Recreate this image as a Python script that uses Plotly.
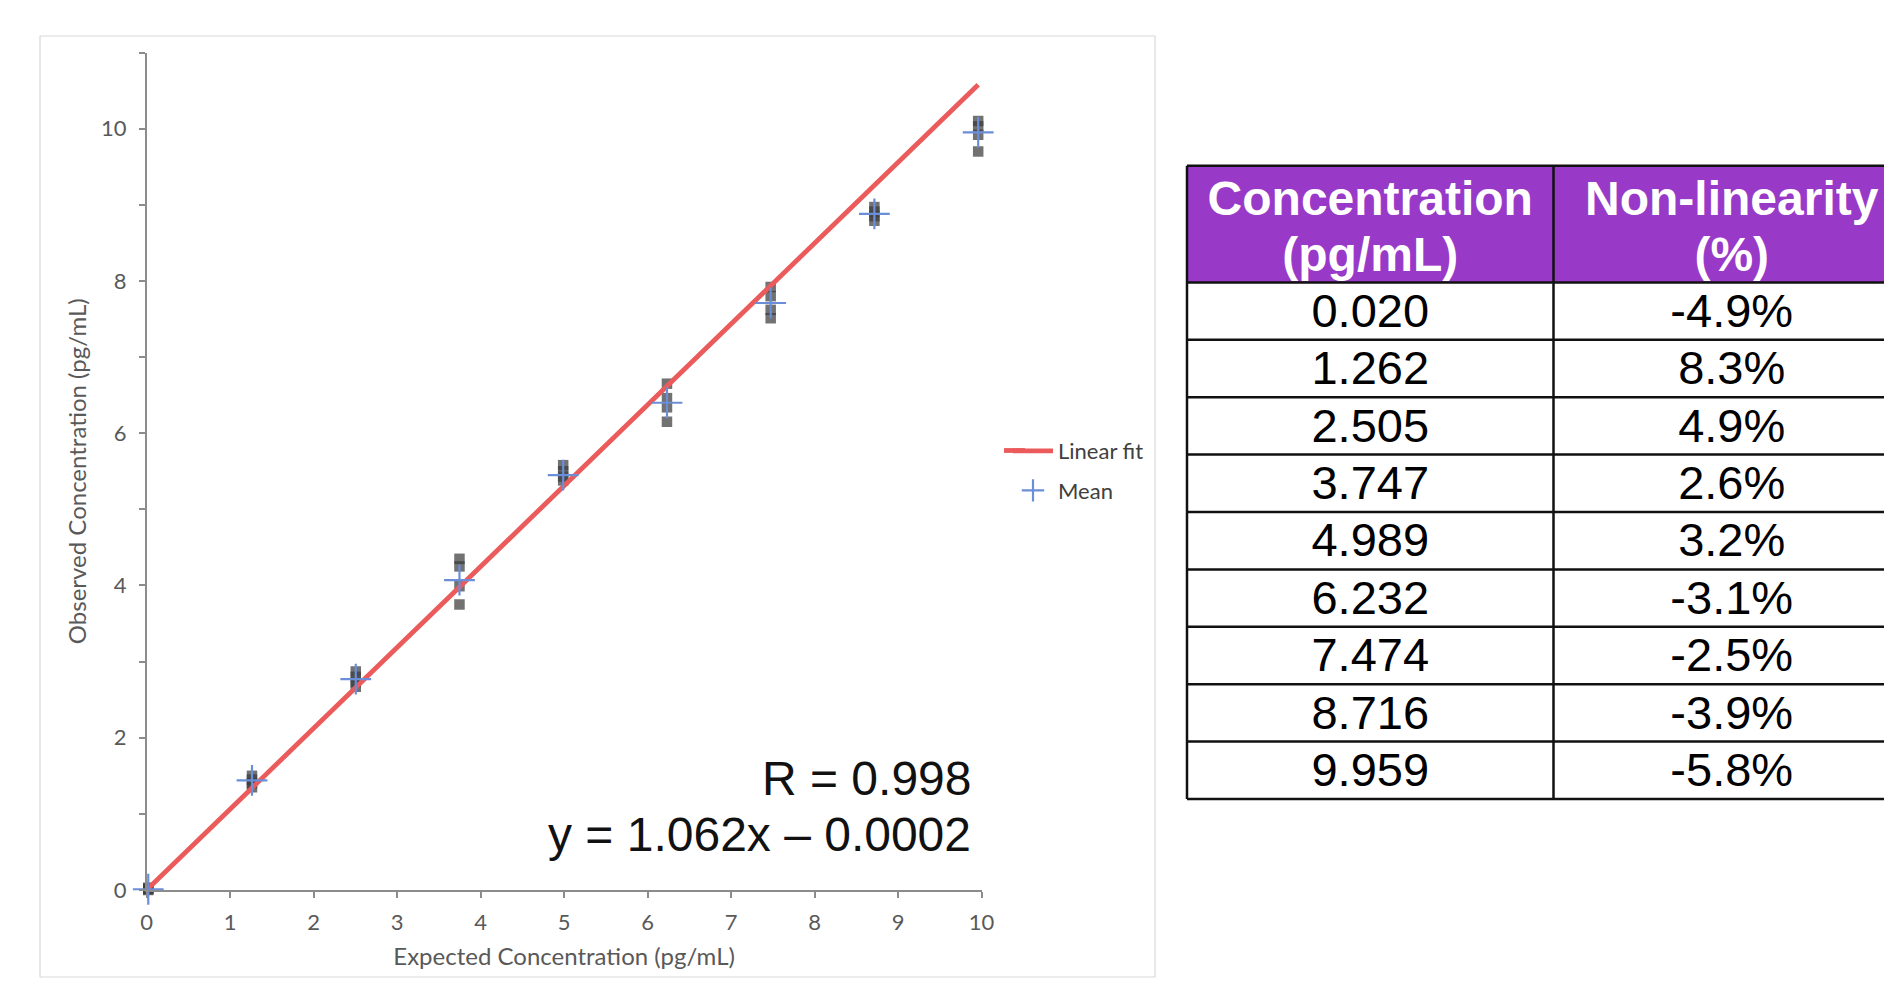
import plotly.graph_objects as go

# ---------------- data ----------------
expected = [0.020, 1.262, 2.505, 3.747, 4.989, 6.232, 7.474, 8.716, 9.959]
rep1 = [0.03, 1.50, 2.87, 4.35, 5.58, 6.65, 7.92, 8.97, 10.10]
rep2 = [0.02, 1.45, 2.80, 4.25, 5.50, 6.46, 7.80, 8.91, 10.03]
rep3 = [0.01, 1.40, 2.73, 3.99, 5.43, 6.34, 7.62, 8.85, 9.92]
rep4 = [0.00, 1.35, 2.67, 3.75, 5.38, 6.15, 7.51, 8.79, 9.70]
mean_obs = [0.01, 1.44, 2.77, 4.07, 5.45, 6.40, 7.71, 8.88, 9.95]
fit_x = [0.0, 9.959]
fit_y = [-0.0002, 10.576]
x_ticks = [0, 1, 2, 3, 4, 5, 6, 7, 8, 9, 10]
y_ticks = [0, 2, 4, 6, 8, 10]

table_header_1 = ["Concentration", "Non-linearity"]
table_header_2 = ["(pg/mL)", "(%)"]
table_conc = ["0.020", "1.262", "2.505", "3.747", "4.989", "6.232", "7.474", "8.716", "9.959"]
table_nonlin = ["-4.9%", "8.3%", "4.9%", "2.6%", "3.2%", "-3.1%", "-2.5%", "-3.9%", "-5.8%"]

r_text = "R = 0.998"
eq_text = "y = 1.062x \u2013 0.0002"

# ---------------- layout geometry (pixels) ----------------
W, H = 1884, 982
def px_x(p): return p / W
def px_y(p): return 1 - p / H

AX_FONT = "Lato"
GRAY = "#595959"
RED = "#EB5B5B"
BLUE = "#6B8ED8"

fig = go.Figure()

# replicate squares
reps_x = expected * 4
reps_y = rep1 + rep2 + rep3 + rep4
fig.add_trace(go.Scatter(
    x=reps_x, y=reps_y, mode="markers", showlegend=False, hoverinfo="skip",
    marker=dict(symbol="square", size=10.5, color="rgba(60,60,60,0.72)", line=dict(width=0)),
    xaxis="x", yaxis="y", cliponaxis=False))

# linear fit
fig.add_trace(go.Scatter(
    x=fit_x, y=fit_y, mode="lines", name="Linear fit",
    line=dict(color=RED, width=4.8), legendgroup="a",
    xaxis="x", yaxis="y"))

# mean crosses
fig.add_trace(go.Scatter(
    x=expected, y=mean_obs, mode="markers", name="Mean", legendgroup="b",
    marker=dict(symbol="cross-thin", size=22, line=dict(color=BLUE, width=2.2), color=BLUE),
    xaxis="x", yaxis="y", cliponaxis=False))

# ---------------- table on secondary axes (pixel units) ----------------
T_LEFT, T_MID, T_RIGHT = 1187, 1553.5, 1910
T_TOP, HEAD_H, ROW_H = 165.8, 116.6, 57.4
n_rows = len(table_conc)
T_BOTTOM = T_TOP + HEAD_H + ROW_H * n_rows

shapes = []
shapes.append(dict(type="rect", xref="x2", yref="y2", x0=T_LEFT, x1=T_RIGHT,
                   y0=T_TOP, y1=T_TOP + HEAD_H, fillcolor="#9839C8",
                   line=dict(width=0), layer="below"))
hl = [T_TOP, T_TOP + HEAD_H] + [T_TOP + HEAD_H + ROW_H * (i + 1) for i in range(n_rows)]
for yv in hl:
    shapes.append(dict(type="line", xref="x2", yref="y2", x0=T_LEFT, x1=T_RIGHT,
                       y0=yv, y1=yv, line=dict(color="#111111", width=2.5)))
for xv in [T_LEFT, T_MID, T_RIGHT]:
    shapes.append(dict(type="line", xref="x2", yref="y2", x0=xv, x1=xv,
                       y0=T_TOP, y1=T_BOTTOM, line=dict(color="#111111", width=2.5)))

# chart-area border
shapes.append(dict(type="rect", xref="paper", yref="paper",
                   x0=px_x(40), x1=px_x(1155), y0=px_y(977), y1=px_y(36),
                   line=dict(color="#D9D9D9", width=1.2), fillcolor="rgba(0,0,0,0)", layer="below"))

# lengthen legend line sample to match the reference
shapes.append(dict(type="line", xref="paper", yref="paper",
                   x0=px_x(1004), x1=px_x(1025), y0=px_y(450.5), y1=px_y(450.5),
                   line=dict(color=RED, width=4.8)))

c1 = (T_LEFT + T_MID) / 2
c2 = (T_MID + T_RIGHT) / 2
row_centers = [T_TOP + HEAD_H + ROW_H * (i + 0.5) + 4 for i in range(n_rows)]

fig.add_trace(go.Scatter(
    x=[c1, c2, c1, c2], y=[T_TOP + 37, T_TOP + 37, T_TOP + 93, T_TOP + 93],
    text=["<b>" + t + "</b>" for t in table_header_1 + table_header_2],
    mode="text", textposition="middle center", showlegend=False, hoverinfo="skip",
    textfont=dict(family="Liberation Sans", size=48, color="white"),
    xaxis="x2", yaxis="y2", cliponaxis=True))
fig.add_trace(go.Scatter(
    x=[c1] * n_rows + [c2] * n_rows, y=row_centers + row_centers,
    text=table_conc + table_nonlin, mode="text", textposition="middle center",
    showlegend=False, hoverinfo="skip",
    textfont=dict(family="Liberation Sans", size=47, color="black"),
    xaxis="x2", yaxis="y2", cliponaxis=True))

# ---------------- layout ----------------
PL, PR = 146.6, 981.6
PB, PT = 890.0, 52.5

fig.update_layout(
    width=W, height=H, margin=dict(l=0, r=0, t=0, b=0, autoexpand=False),
    paper_bgcolor="white", plot_bgcolor="rgba(0,0,0,0)",
    showlegend=True,
    legend=dict(x=px_x(1008), y=px_y(430), xanchor="left", yanchor="top",
                font=dict(family=AX_FONT, size=22, color="#404040"),
                bgcolor="rgba(0,0,0,0)", tracegroupgap=8, traceorder="grouped",
                itemwidth=40),
    xaxis=dict(domain=[px_x(PL), px_x(PR)], range=[0, 10], tickvals=x_ticks,
               showgrid=False, zeroline=False, showline=True, linecolor="#8C8C8C", linewidth=1.5,
               ticks="outside", ticklen=6, tickcolor="#8C8C8C", tickwidth=1.5,
               tickfont=dict(family=AX_FONT, size=22, color=GRAY), ticklabelstandoff=6,
               title=dict(text="Expected Concentration (pg/mL)", standoff=14,
                          font=dict(family=AX_FONT, size=24, color=GRAY)),
               fixedrange=True, anchor="y", automargin=False),
    yaxis=dict(domain=[px_y(PB), px_y(PT)], range=[0, 11], tickvals=y_ticks,
               showgrid=False, zeroline=False, showline=True, linecolor="#8C8C8C", linewidth=1.5,
               ticks="outside", ticklen=6, tickcolor="#8C8C8C", tickwidth=1.5,
               minor=dict(dtick=1, ticks="outside", ticklen=6, tickcolor="#8C8C8C", tickwidth=1.5, showgrid=False),
               tickfont=dict(family=AX_FONT, size=22, color=GRAY), ticklabelstandoff=8,
               title=dict(text="Observed Concentration (pg/mL)", standoff=8,
                          font=dict(family=AX_FONT, size=24, color=GRAY)),
               fixedrange=True, anchor="x", automargin=False),
    xaxis2=dict(domain=[px_x(1180), 1], range=[1180, W], visible=False, fixedrange=True, anchor="y2"),
    yaxis2=dict(domain=[px_y(815), px_y(160)], range=[815, 160], visible=False, fixedrange=True, anchor="x2"),
    shapes=shapes,
    annotations=[
        dict(text=r_text, xref="paper", yref="paper", x=px_x(973), y=px_y(778),
             xanchor="right", yanchor="middle", showarrow=False,
             font=dict(family="Liberation Sans", size=48, color="#111111")),
        dict(text=eq_text, xref="paper", yref="paper", x=px_x(973), y=px_y(834),
             xanchor="right", yanchor="middle", showarrow=False,
             font=dict(family="Liberation Sans", size=48, color="#111111")),
    ],
)

fig.write_html("out.html")
